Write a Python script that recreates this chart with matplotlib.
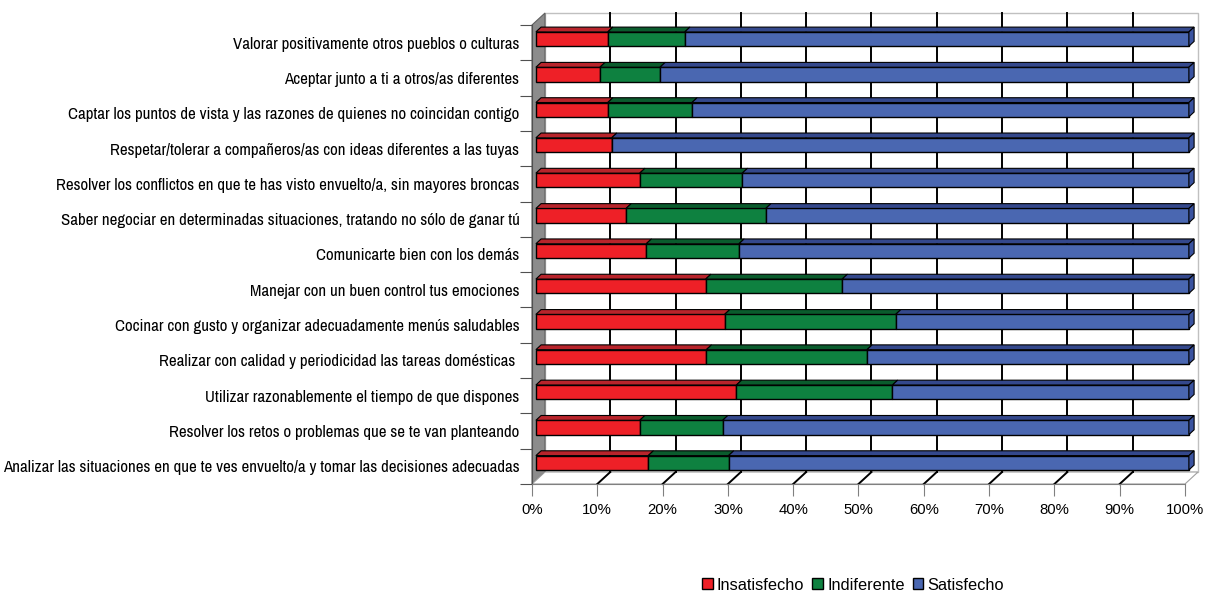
import matplotlib
matplotlib.use('Agg')
import matplotlib.pyplot as plt
import numpy as np
from matplotlib.patches import Polygon, Rectangle, Patch
from matplotlib import font_manager

# data (top to bottom as in the chart)
categories = [
    'Valorar positivamente otros pueblos o culturas',
    'Aceptar junto a ti a otros/as diferentes',
    'Captar los puntos de vista y las razones de quienes no coincidan contigo',
    'Respetar/tolerar a compañeros/as con ideas diferentes a las tuyas',
    'Resolver los conflictos en que te has visto envuelto/a, sin mayores broncas',
    'Saber negociar en determinadas situaciones, tratando no sólo de ganar tú',
    'Comunicarte bien con los demás',
    'Manejar con un buen control tus emociones',
    'Cocinar con gusto y organizar adecuadamente menús saludables',
    'Realizar con calidad y periodicidad las tareas domésticas ',
    'Utilizar razonablemente el tiempo de que dispones',
    'Resolver los retos o problemas que se te van planteando',
    'Analizar las situaciones en que te ves envuelto/a y tomar las decisiones adecuadas',
]
insatisfecho = [11.0, 9.8, 11.0, 11.6, 15.9, 13.8, 16.9, 26.0, 28.9, 26.1, 30.7, 15.9, 17.2]
indiferente = [11.8, 9.2, 12.9, 0.0, 15.7, 21.4, 14.2, 20.9, 26.2, 24.6, 23.9, 12.7, 12.3]
satisfecho = [77.2, 81.0, 76.1, 88.4, 68.4, 64.8, 68.9, 53.1, 44.9, 49.3, 45.4, 71.4, 70.5]
series_names = ['Insatisfecho', 'Indiferente', 'Satisfecho']
x_ticks = [0, 10, 20, 30, 40, 50, 60, 70, 80, 90, 100]

front_colors = ['#ee2027', '#0e8140', '#4a67b1']
top_colors = ['#b8242b', '#0a5c2d', '#34488c']
side_color = '#3a53a0'

names = {f.name for f in font_manager.fontManager.ttflist}
narrow = next((f for f in ['Liberation Sans Narrow', 'Arial Narrow', 'Archivo Narrow',
                           'Roboto Condensed', 'PT Sans Narrow'] if f in names), 'Liberation Sans')
plt.rcParams['font.family'] = ['Liberation Sans', 'DejaVu Sans']

W, H = 1208, 594
fig = plt.figure(figsize=(W / 100, H / 100), dpi=100)
L, R = 532 / W, 1185 / W
B, T = 1 - 484 / H, 1 - 25 / H
ax = fig.add_axes([L, B, R - L, T - B])
n = len(categories)
ax.set_xlim(0, 100)
ax.set_ylim(-0.5, n - 0.5)

# size the narrow label font so the longest label spans ~512 px like the original
renderer = fig.canvas.get_renderer()
probe = fig.text(0, 0, categories[-1], fontsize=12, family=[narrow, 'DejaVu Sans'])
label_size = 12 * 512 / probe.get_window_extent(renderer).width
probe.remove()

# depth of the fake 3d box, in data units
DX = 13 / ((R - L) * W / 100)
DY = 12 / ((T - B) * H / n)
y0, y1 = -0.5, n - 0.5

# side wall, floor, back wall
ax.add_patch(Polygon([(0, y0), (DX, y0 + DY), (DX, y1 + DY), (0, y1)],
                     facecolor='#8c8c8c', edgecolor='#606060', lw=0.8, clip_on=False, zorder=0.5))
ax.add_patch(Polygon([(0, y0), (100, y0), (100 + DX, y0 + DY), (DX, y0 + DY)],
                     facecolor='white', edgecolor='#a0a0a0', lw=0.8, clip_on=False, zorder=0.5))
ax.add_patch(Rectangle((DX, y0 + DY), 100, n, facecolor='white', edgecolor='#c0c0c0',
                       lw=1, clip_on=False, zorder=0.4))
for x in x_ticks[1:-1]:
    ax.plot([x + DX, x + DX], [y0 + DY, y1 + DY], color='black', lw=1.4, clip_on=False, zorder=0.6)
    ax.plot([x, x + DX], [y0, y0 + DY], color='black', lw=1.4, clip_on=False, zorder=0.6)

# stacked bars
ypos = np.arange(n)[::-1]
f0, f1 = 0.3, 0.7
h = 0.405
yc = ypos + f0 * DY
ddx, ddy = (f1 - f0) * DX, (f1 - f0) * DY
left = np.zeros(n)
for vals, fc, tc, name in zip([insatisfecho, indiferente, satisfecho], front_colors, top_colors, series_names):
    vals = np.array(vals)
    ax.barh(yc, vals, left=left + f0 * DX, height=h, color=fc, edgecolor='black',
            lw=1, label=name, zorder=2, clip_on=False)
    for y, l, v in zip(yc, left, vals):
        if v <= 0:
            continue
        xa = l + f0 * DX
        yt = y + h / 2
        ax.add_patch(Polygon([(xa, yt), (xa + v, yt), (xa + v + ddx, yt + ddy), (xa + ddx, yt + ddy)],
                             facecolor=tc, edgecolor='black', lw=0.8, zorder=2, clip_on=False))
    left = left + vals

# right side faces at the end of each bar
for y, l in zip(yc, left):
    xe = l + f0 * DX
    ax.add_patch(Polygon([(xe, y - h / 2), (xe + ddx, y - h / 2 + ddy), (xe + ddx, y + h / 2 + ddy), (xe, y + h / 2)],
                         facecolor=side_color, edgecolor='black', lw=0.8, zorder=2, clip_on=False))

# axes styling
for s in ['top', 'right']:
    ax.spines[s].set_visible(False)
ax.spines['left'].set_color('#505050')
ax.spines['bottom'].set_color('#808080')
ax.set_facecolor('none')
ax.set_xticks(x_ticks)
ax.set_xticklabels([f'{t}%' for t in x_ticks])
ax.tick_params(axis='x', length=8.6, color='#808080', pad=5, labelsize=10.7)
ax.set_yticks(np.arange(-0.5, n, 1.0))
ax.set_yticklabels([])
ax.tick_params(axis='y', which='major', length=8.6, color='#505050')
ax.set_yticks(ypos, minor=True)
ax.set_yticklabels(categories, minor=True, family=[narrow, 'DejaVu Sans'], fontsize=label_size)
ax.tick_params(axis='y', which='minor', length=0, pad=9)

handles = [Patch(facecolor=c, edgecolor='black', lw=1) for c in front_colors]
fig.legend(handles, series_names, loc='center', bbox_to_anchor=(853 / W, 1 - 585 / H),
           ncol=3, frameon=False, fontsize=11.8, handlelength=0.65, handleheight=0.65,
           handletextpad=0.25, columnspacing=0.5, borderaxespad=0)

fig.savefig('out.png', dpi=100)
